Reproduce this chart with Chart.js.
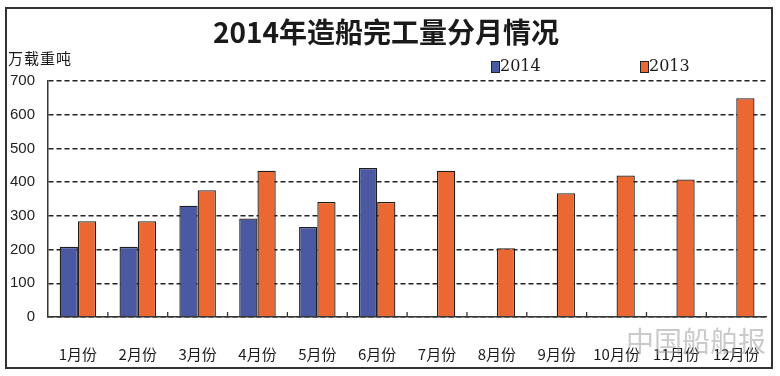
<!DOCTYPE html>
<html>
<head>
<meta charset="utf-8">
<script src="https://cdn.jsdelivr.net/npm/chart.js@4/dist/chart.umd.min.js"></script>
<style>
  body { margin: 0; background: #fff; }
  #wrap { position: relative; width: 780px; height: 376px; overflow: hidden; }
  #frame { position: absolute; left: 5px; top: 7px; width: 764px; height: 358px; border: 2px solid #333; }
  #chart { position: absolute; left: 0; top: 0; }
  .txt { position: absolute; white-space: nowrap; color: #1a1a1a; }
  #title { left: 0; width: 772px; top: 17px; text-align: center; font: bold 28px "Noto Sans CJK SC", sans-serif; line-height: 1; }
  #unit { left: 8px; top: 50px; font: 15px "Noto Sans CJK SC", sans-serif; line-height: 1; letter-spacing: 1px; }
  .leg { top: 58px; font: 16px "DejaVu Serif", serif; line-height: 1; }
  .box { position: absolute; top: 61px; width: 7px; height: 10px; border: 1px solid #222; }
  #mark { left: 626px; top: 326px; font: 28px "Noto Sans CJK SC", sans-serif; color: rgba(150,150,150,0.5); line-height: 1; }
</style>
</head>
<body>
<div id="wrap">
  <div id="frame"></div>
  <canvas id="chart" width="780" height="376"></canvas>
  <div class="txt" id="title">2014年造船完工量分月情况</div>
  <div class="txt" id="unit">万载重吨</div>
  <div class="box" style="left:491px;background:#4b58a2"></div>
  <div class="txt leg" style="left:500px">2014</div>
  <div class="box" style="left:640px;background:#ec6832"></div>
  <div class="txt leg" style="left:649px">2013</div>
  <div class="txt" id="mark">中国船舶报</div>
</div>
<script>
var months = ['1月份','2月份','3月份','4月份','5月份','6月份','7月份','8月份','9月份','10月份','11月份','12月份'];
var data2014 = [208, 208, 330, 292, 267, 442, null, null, null, null, null, null];
var data2013 = [284, 284, 376, 434, 341, 341, 434, 204, 367, 420, 408, 649];
var yTicks = [0, 100, 200, 300, 400, 500, 600, 700];

// small tick marks pointing up into the plot, between categories
var innerTicks = {
    id: 'innerTicks',
    afterDraw: function(chart) {
        var x = chart.scales.x;
        var ctx = chart.ctx;
        ctx.save();
        ctx.strokeStyle = '#333';
        ctx.lineWidth = 1.3;
        for (var i = 1; i < months.length; i++) {
            var px = (x.getPixelForValue(i - 1) + x.getPixelForValue(i)) / 2;
            ctx.beginPath();
            ctx.moveTo(px, x.top);
            ctx.lineTo(px, x.top - 5);
            ctx.stroke();
        }
        ctx.restore();
    }
};

new Chart(document.getElementById('chart'), {
    type: 'bar',
    data: {
        labels: months,
        datasets: [
            { label: '2014', data: data2014, backgroundColor: '#4b58a2', borderColor: '#1e1e1e', borderWidth: 1.3 },
            { label: '2013', data: data2013, backgroundColor: '#ec6832', borderColor: '#1e1e1e', borderWidth: 1.3 }
        ]
    },
    options: {
        responsive: false,
        animation: false,
        layout: { padding: { top: 81, right: 10, left: 0, bottom: 0 } },
        datasets: { bar: { categoryPercentage: 0.61, barPercentage: 1.0 } },
        plugins: { legend: { display: false }, title: { display: false }, tooltip: { enabled: false } },
        scales: {
            x: {
                afterFit: function(s) { s.height = 59; },
                grid: { display: false },
                border: { display: true, color: '#333', width: 1.5 },
                ticks: { padding: 20, color: '#1a1a1a', font: { family: '"Noto Sans CJK SC", sans-serif', size: 15 }, maxRotation: 0, autoSkip: false }
            },
            y: {
                min: 0, max: 700,
                afterFit: function(s) { s.width = 48; },
                afterBuildTicks: function(s) { s.ticks = yTicks.map(function(v) { return { value: v }; }); },
                grid: { color: '#222', lineWidth: 1.4, drawTicks: false },
                border: { display: true, color: '#333', width: 1.5, dash: [5, 3] },
                ticks: { padding: 13, color: '#222', font: { family: '"Liberation Sans", Arial, sans-serif', size: 15 } }
            }
        }
    },
    plugins: [innerTicks]
});
</script>
</body>
</html>
